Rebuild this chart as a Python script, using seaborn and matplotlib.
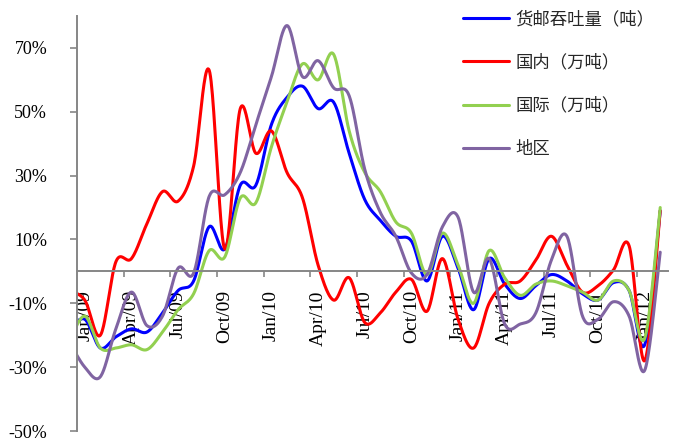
import numpy as np
import pandas as pd
import matplotlib
matplotlib.use("Agg")
import matplotlib.pyplot as plt
from matplotlib.lines import Line2D
from matplotlib.ticker import FuncFormatter
import seaborn as sns

# Monthly year-on-year growth (%), Dec/08 .. Feb/12
months = ["Dec/08",
          "Jan/09", "Feb/09", "Mar/09", "Apr/09", "May/09", "Jun/09",
          "Jul/09", "Aug/09", "Sep/09", "Oct/09", "Nov/09", "Dec/09",
          "Jan/10", "Feb/10", "Mar/10", "Apr/10", "May/10", "Jun/10",
          "Jul/10", "Aug/10", "Sep/10", "Oct/10", "Nov/10", "Dec/10",
          "Jan/11", "Feb/11", "Mar/11", "Apr/11", "May/11", "Jun/11",
          "Jul/11", "Aug/11", "Sep/11", "Oct/11", "Nov/11", "Dec/11",
          "Jan/12", "Feb/12"]

total = [-18, -15, -24, -20.5, -18, -19, -13, -6, -3, 14, 7, 27, 27, 46, 54.5,
         58, 51, 53, 37, 22.5, 16, 11, 9.5, -3, 11, 1, -12, 4, -4, -8.5, -4.5,
         -1, -3, -7, -9, -3.5, -6, -23, 19]
domestic = [-6, -9, -20, 3, 4, 15, 25, 22, 33, 63, 7, 51, 37, 44, 31, 23, 2,
            -9, -2, -16, -13, -6.5, -2.5, -12.5, 4, -15, -24, -10, -4, -3, 3.5,
            11, 2, -6.5, -4.5, 0.5, 8, -28, 19]
international = [-22, -14, -24, -24, -23, -24.5, -19, -12, -7, 6.5, 4.5, 23,
                 21.5, 39, 53, 65, 60, 68, 44, 31, 25, 15.5, 12, -1, 12, 2,
                 -10, 6.5, -2, -7.5, -4, -3, -4.5, -6.5, -9, -3, -6, -21, 20]
regional = [-22, -30, -33, -18, -6.5, -17, -14, 1, -0.5, 23.5, 24, 31, 46,
            61, 77, 61, 66, 57.5, 55, 32, 18.5, 11, -0.5, -1, 14, 17, -6.5, 4,
            -16.5, -16.5, -13, 3.5, 11, -14, -15, -9.5, -14, -31, 6]

series_names = ["货邮吞吐量（吨）", "国内（万吨）", "国际（万吨）", "地区"]
series_values = [total, domestic, international, regional]
series_colors = ["#0000FF", "#FF0000", "#92D050", "#8064A2"]

tick_labels = ["Jan/09", "Apr/09", "Jul/09", "Oct/09", "Jan/10", "Apr/10",
               "Jul/10", "Oct/10", "Jan/11", "Apr/11", "Jul/11", "Oct/11",
               "Jan/12"]


def smooth_curve(x, y, steps=24):
    """Bezier smoothing through every point (Catmull-Rom style control points)."""
    x = np.asarray(x, float)
    y = np.asarray(y, float)
    px = np.concatenate([[x[0]], x, [x[-1]]])
    py = np.concatenate([[y[0]], y, [y[-1]]])
    out_x, out_y = [], []
    t = np.linspace(0, 1, steps, endpoint=False)
    for i in range(1, len(px) - 2):
        p0 = np.array([px[i], py[i]])
        p3 = np.array([px[i + 1], py[i + 1]])
        c1 = p0 + (np.array([px[i + 1], py[i + 1]]) - np.array([px[i - 1], py[i - 1]])) / 6
        c2 = p3 - (np.array([px[i + 2], py[i + 2]]) - np.array([px[i], py[i]])) / 6
        b = ((1 - t) ** 3)[:, None] * p0 + (3 * (1 - t) ** 2 * t)[:, None] * c1 \
            + (3 * (1 - t) * t ** 2)[:, None] * c2 + (t ** 3)[:, None] * p3
        out_x.extend(b[:, 0])
        out_y.extend(b[:, 1])
    out_x.append(x[-1])
    out_y.append(y[-1])
    return np.array(out_x), np.array(out_y)


# Month index: Jan/09 sits at 0, so Dec/08 is -1
month_pos = np.arange(len(months)) - 1

frames = []
for name, vals in zip(series_names, series_values):
    sx, sy = smooth_curve(month_pos, vals)
    frames.append(pd.DataFrame({"x": sx, "y": sy, "series": name}))
df = pd.concat(frames, ignore_index=True)

sns.set_style("white")
plt.rcParams["font.family"] = ["Liberation Serif", "DejaVu Serif"]

fig = plt.figure(figsize=(6.74, 4.44), dpi=100)
ax = fig.add_axes([77 / 674, 13 / 444, 591 / 674, 415 / 444])

sns.lineplot(data=df, x="x", y="y", hue="series", hue_order=series_names,
             palette=dict(zip(series_names, series_colors)), sort=False,
             estimator=None, linewidth=2.2, legend=False, ax=ax)

ax.set_xlim(-0.5, 37.5)
ax.set_ylim(-50, 80)
ax.set_xlabel("")
ax.set_ylabel("")

axis_grey = "#868686"
for side in ("top", "right"):
    ax.spines[side].set_visible(False)
ax.spines["left"].set_color(axis_grey)
ax.spines["left"].set_linewidth(1.4)
ax.spines["bottom"].set_position(("data", 0))
ax.spines["bottom"].set_color(axis_grey)
ax.spines["bottom"].set_linewidth(1.4)

ax.set_yticks(np.arange(-50, 71, 20))
ax.yaxis.set_major_formatter(FuncFormatter(lambda v, _: f"{v:.0f}%"))
ax.tick_params(axis="y", left=True, direction="out", length=5, width=1.2,
               color=axis_grey, pad=16.5, labelsize=13, labelcolor="black")

ax.set_xticks(np.arange(0, 37, 3))
ax.set_xticklabels(tick_labels, rotation=90)
ax.set_xticks(np.arange(2.5, 36, 3), minor=True)
ax.tick_params(axis="x", which="major", bottom=True, length=0, pad=13.5,
               labelsize=14, labelcolor="black")
ax.tick_params(axis="x", which="minor", bottom=True, direction="out",
               length=4.3, width=1.2, color=axis_grey)

handles = [Line2D([], [], color=c, linewidth=2.2) for c in series_colors]
ax.legend(handles, series_names, loc="upper left",
          bbox_to_anchor=(463 / 674, 1 - 10 / 444),
          bbox_transform=fig.transFigure, frameon=False, borderpad=0,
          borderaxespad=0, handlelength=2.65, handletextpad=0.35,
          labelspacing=1.46,
          prop={"family": ["Noto Sans CJK SC", "DejaVu Sans"], "size": 12.5})

fig.savefig("out.png", dpi=100)
